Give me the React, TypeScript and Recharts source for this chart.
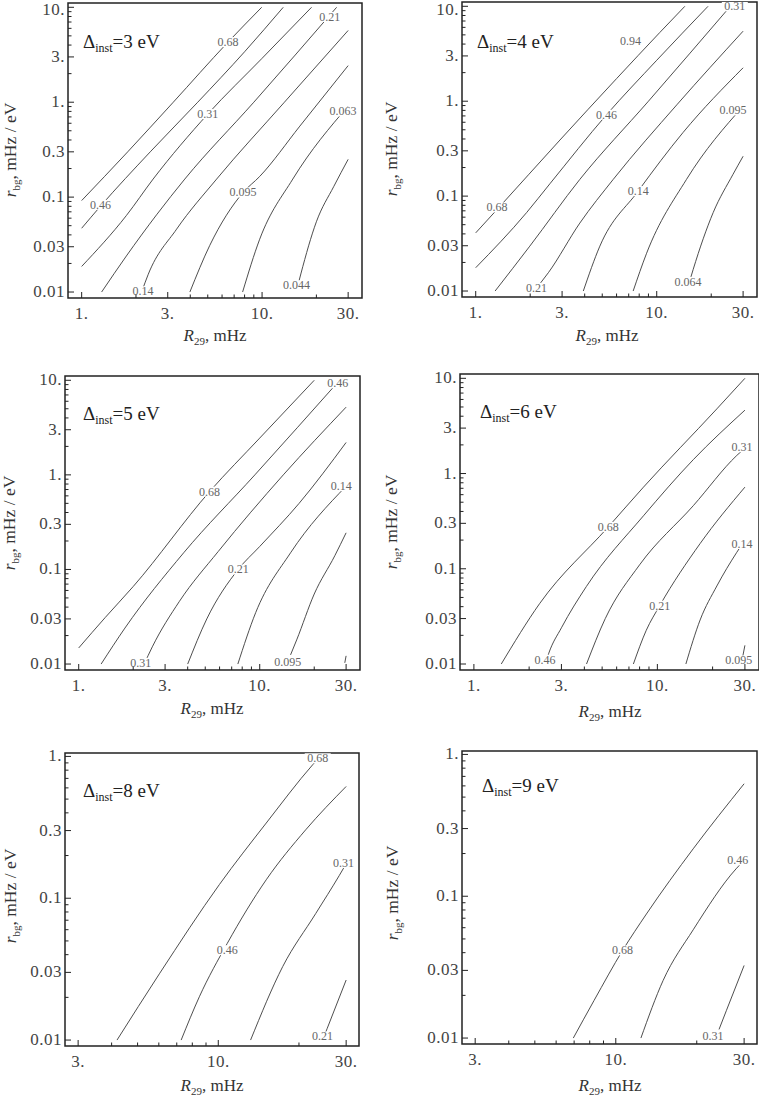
import React from 'react';
import { ComposedChart, Line, Scatter, XAxis, YAxis, ReferenceArea } from 'recharts';

const serif = '"Liberation Serif", "DejaVu Serif", "Times New Roman", serif';

// tick values (panels with R29 from 1, and panels with R29 from 3)
const xMajorWide = [1, 3, 10, 30];
const xMinorWide = [2, 4, 5, 6, 7, 8, 9, 20];
const xMajorNarrow = [3, 10, 30];
const xMinorNarrow = [4, 5, 6, 7, 8, 9, 20];
const yMajorTall = [0.01, 0.03, 0.1, 0.3, 1, 3, 10];
const yMinorTall = [0.02, 0.04, 0.05, 0.06, 0.07, 0.08, 0.09, 0.2, 0.4, 0.5, 0.6, 0.7, 0.8, 0.9, 2, 4, 5, 6, 7, 8, 9];
const yMajorShort = [0.01, 0.03, 0.1, 0.3, 1];
const yMinorShort = [0.02, 0.04, 0.05, 0.06, 0.07, 0.08, 0.09, 0.2, 0.4, 0.5, 0.6, 0.7, 0.8, 0.9];

// contour lines, [R29, r_bg] pairs
const lines3eV = [
  [[1, 0.092], [1.8, 0.3], [3.22, 1], [6.4, 4.2], [9.95, 10]],
  [[1, 0.047], [1.27, 0.08], [2.4, 0.3], [4.4, 1], [8, 3.4], [13.1, 10]],
  [[1, 0.0186], [1.77, 0.064], [2.49, 0.155], [5.0, 0.75], [10, 2.9], [18.8, 10]],
  [[1.29, 0.01], [1.77, 0.024], [2.6, 0.065], [3.73, 0.155], [9, 1], [25.9, 10]],
  [[2.15, 0.01], [2.34, 0.0154], [3.36, 0.046], [5.6, 0.155], [13.3, 1], [30, 5.7]],
  [[3.98, 0.01], [5.13, 0.031], [7.85, 0.112], [9.7, 0.165], [16.2, 0.56], [30, 2.43]],
  [[7.8, 0.01], [9.7, 0.036], [14.8, 0.155], [30, 0.91]],
  [[15.8, 0.0118], [16.4, 0.0155], [20, 0.055], [25, 0.13], [30, 0.25]],
];
const labels3eV = [
  { x: 6.48, y: 4.3, text: '0.68' },
  { x: 1.27, y: 0.083, text: '0.46' },
  { x: 5.0, y: 0.75, text: '0.31' },
  { x: 23.7, y: 7.9, text: '0.21' },
  { x: 2.19, y: 0.0102, text: '0.14' },
  { x: 7.85, y: 0.112, text: '0.095' },
  { x: 28.1, y: 0.8, text: '0.063' },
  { x: 15.5, y: 0.0118, text: '0.044' },
];

const lines4eV = [
  [[1, 0.041], [1.31, 0.072], [2.92, 0.39], [6, 1.73], [10.4, 5.3], [14.3, 10]],
  [[1, 0.0176], [1.91, 0.067], [2.57, 0.135], [5.28, 0.72], [10, 2.7], [19.2, 10]],
  [[1.28, 0.01], [1.99, 0.0297], [3.76, 0.15], [9.0, 1], [25.5, 10]],
  [[2.1, 0.01], [2.52, 0.0156], [3.76, 0.052], [5.75, 0.15], [13, 0.93], [30, 5.47]],
  [[3.93, 0.01], [4.85, 0.0297], [7.9, 0.113], [14, 0.47], [30, 2.25]],
  [[7.41, 0.01], [8.79, 0.025], [14.6, 0.15], [30, 0.886]],
  [[15.2, 0.0127], [15.9, 0.0169], [20.5, 0.067], [26.4, 0.17], [30, 0.263]],
];
const labels4eV = [
  { x: 7.17, y: 4.29, text: '0.94' },
  { x: 1.31, y: 0.076, text: '0.68' },
  { x: 5.28, y: 0.72, text: '0.46' },
  { x: 27, y: 10, text: '0.31' },
  { x: 2.17, y: 0.0108, text: '0.21' },
  { x: 7.9, y: 0.113, text: '0.14' },
  { x: 26.4, y: 0.8, text: '0.095' },
  { x: 14.9, y: 0.0125, text: '0.064' },
];

const lines5eV = [
  [[1, 0.0148], [1.4, 0.031], [2.0, 0.066], [5.28, 0.665], [10, 2.45], [20, 10]],
  [[1.33, 0.01], [1.8, 0.024], [3.8, 0.15], [9.4, 1], [27.6, 10]],
  [[2.3, 0.01], [2.55, 0.0152], [3.6, 0.046], [5.9, 0.155], [13.5, 1], [30, 5.2]],
  [[4.0, 0.01], [5.1, 0.03], [7.6, 0.1], [10, 0.175], [16.5, 0.5], [30, 2.2]],
  [[7.57, 0.01], [9.5, 0.035], [14.8, 0.15], [30, 0.76]],
  [[14.8, 0.0125], [16, 0.018], [20, 0.055], [26, 0.14], [30, 0.244]],
  [[29.5, 0.0103], [30, 0.0122]],
];
const labels5eV = [
  { x: 5.28, y: 0.665, text: '0.68' },
  { x: 27, y: 9.3, text: '0.46' },
  { x: 2.2, y: 0.0103, text: '0.31' },
  { x: 7.6, y: 0.1, text: '0.21' },
  { x: 28.2, y: 0.76, text: '0.14' },
  { x: 14.3, y: 0.0104, text: '0.095' },
];

const lines6eV = [
  [[1.41, 0.01], [2.28, 0.043], [5.4, 0.275], [8.4, 0.72], [21.1, 4.78], [30, 10]],
  [[2.45, 0.01], [2.56, 0.013], [3.0, 0.024], [4.1, 0.065], [8.4, 0.36], [15.7, 1.4], [30, 4.63]],
  [[4.11, 0.01], [5.2, 0.03], [8.0, 0.11], [15.7, 0.46], [27.1, 1.55], [30, 1.85]],
  [[7.4, 0.01], [8.7, 0.0226], [10.3, 0.041], [17.1, 0.184], [30, 0.72]],
  [[14.3, 0.01], [17.1, 0.029], [21.1, 0.066], [27.1, 0.149], [30, 0.2]],
  [[29.2, 0.012], [30, 0.0157]],
];
const labels6eV = [
  { x: 5.4, y: 0.275, text: '0.68' },
  { x: 2.44, y: 0.0111, text: '0.46' },
  { x: 28.9, y: 1.89, text: '0.31' },
  { x: 10.3, y: 0.041, text: '0.21' },
  { x: 28.9, y: 0.182, text: '0.14' },
  { x: 27.8, y: 0.0109, text: '0.095' },
];

const lines8eV = [
  [[4.19, 0.01], [6.05, 0.0296], [10.1, 0.125], [15.1, 0.339], [22.5, 0.873], [24, 1]],
  [[7.27, 0.01], [8.5, 0.0202], [10.8, 0.048], [15.1, 0.135], [21.2, 0.304], [30, 0.614]],
  [[13.2, 0.01], [17.4, 0.033], [23.1, 0.078], [28.3, 0.145], [30, 0.175]],
  [[25, 0.011], [25.5, 0.0121], [30, 0.0265]],
];
const labels8eV = [
  { x: 23.5, y: 0.97, text: '0.68' },
  { x: 10.8, y: 0.043, text: '0.46' },
  { x: 29.3, y: 0.177, text: '0.31' },
  { x: 24.5, y: 0.0106, text: '0.21' },
];

const lines9eV = [
  [[6.95, 0.01], [8.3, 0.0184], [10.6, 0.0415], [13, 0.075], [19.4, 0.216], [30, 0.621]],
  [[12.4, 0.01], [15, 0.0255], [19.4, 0.058], [28, 0.156], [30, 0.179]],
  [[24.2, 0.0115], [25.8, 0.0157], [30, 0.0325]],
];
const labels9eV = [
  { x: 10.6, y: 0.0415, text: '0.68' },
  { x: 28.4, y: 0.179, text: '0.46' },
  { x: 23.0, y: 0.0104, text: '0.31' },
];

const wideX = { xDomain: [0.84, 35.8], xMajor: xMajorWide, xMinor: xMinorWide };
const narrowX = { xDomain: [2.68, 33.5], xMajor: xMajorNarrow, xMinor: xMinorNarrow };
const tallY = { yDomain: [0.00865, 11.1], yMajor: yMajorTall, yMinor: yMinorTall };
const shortY = { yDomain: [0.00908, 1.057], yMajor: yMajorShort, yMinor: yMinorShort };

const panels = [
  { delta: '3', lines: lines3eV, labels: labels3eV, ...wideX, ...tallY,
    plot: { l: 68, t: 3, w: 294, h: 295 }, title: [83, 43], xLab: [215, 337], yLab: [12, 150] },
  { delta: '4', lines: lines4eV, labels: labels4eV, ...wideX, ...tallY,
    plot: { l: 462, t: 2, w: 295, h: 295 }, title: [477, 43], xLab: [607, 337], yLab: [393, 149] },
  { delta: '5', lines: lines5eV, labels: labels5eV, ...wideX, ...tallY,
    plot: { l: 65, t: 376, w: 295, h: 294 }, title: [83, 415], xLab: [212, 710], yLab: [11, 523] },
  { delta: '6', lines: lines6eV, labels: labels6eV, ...wideX, ...tallY,
    plot: { l: 460, t: 374, w: 299, h: 296 }, title: [480, 413], xLab: [610, 713], yLab: [393, 522] },
  { delta: '8', lines: lines8eV, labels: labels8eV, ...narrowX, ...shortY,
    plot: { l: 65, t: 753, w: 294, h: 293 }, title: [83, 792], xLab: [212, 1087], yLab: [12, 896] },
  { delta: '9', lines: lines9eV, labels: labels9eV, ...narrowX, ...shortY,
    plot: { l: 462, t: 751, w: 295, h: 293 }, title: [482, 787], xLab: [610, 1087], yLab: [394, 893] },
];

const fmt = (v: number) => (v >= 1 ? `${v}.` : `${v}`);

function XTick(props: any) {
  const { x, y, payload, majors } = props;
  const major = majors.includes(payload.value);
  return (
    <g>
      <line x1={x} x2={x} y1={y} y2={y - (major ? 6 : 3.5)} stroke="#222" strokeWidth={1} />
      {major && (
        <text x={x} y={y + 21} textAnchor="middle" fontSize={17} letterSpacing={0.5} fontFamily={serif} fill="#444">
          {fmt(payload.value)}
        </text>
      )}
    </g>
  );
}

function YTick(props: any) {
  const { x, y, payload, majors, topEdge } = props;
  const major = majors.includes(payload.value);
  // keep the top label inside the page
  const base = Math.max(y + 5, topEdge);
  return (
    <g>
      <line x1={x} x2={x + (major ? 6 : 3.5)} y1={y} y2={y} stroke="#222" strokeWidth={1} />
      {major && (
        <text x={x - 3} y={base} textAnchor="end" fontSize={17} letterSpacing={0.5} fontFamily={serif} fill="#444">
          {fmt(payload.value)}
        </text>
      )}
    </g>
  );
}

function ContourText(props: any) {
  const { cx, cy, payload } = props;
  const w = payload.text.length * 6 + 2;
  return (
    <g>
      <rect x={cx - w / 2} y={cy - 5} width={w} height={10} fill="#fff" />
      <text x={cx} y={cy + 4} textAnchor="middle" fontSize={12} fontFamily={serif} fill="#666">
        {payload.text}
      </text>
    </g>
  );
}

function Panel({ p }: { p: (typeof panels)[number] }) {
  const { plot } = p;
  const width = plot.w + 64;
  const height = plot.h + 42;
  const chartTop = plot.t - 12;
  // svg y where a label baseline stays clear of the page top
  const topEdge = 15 - chartTop;
  return (
    <>
      <div style={{ position: 'absolute', left: plot.l - 60, top: chartTop }}>
        <ComposedChart width={width} height={height} margin={{ top: 12, right: 4, bottom: 5, left: 10 }}>
          <XAxis
            dataKey="x"
            type="number"
            scale="log"
            domain={p.xDomain}
            allowDataOverflow
            ticks={[...p.xMajor, ...p.xMinor]}
            interval={0}
            tickSize={0}
            tickMargin={0}
            tickLine={false}
            axisLine={false}
            height={25}
            tick={(t: any) => <XTick {...t} majors={p.xMajor} />}
          />
          <YAxis
            dataKey="y"
            type="number"
            scale="log"
            domain={p.yDomain}
            allowDataOverflow
            ticks={[...p.yMajor, ...p.yMinor]}
            interval={0}
            tickSize={0}
            tickMargin={0}
            tickLine={false}
            axisLine={false}
            width={50}
            tick={(t: any) => <YTick {...t} majors={p.yMajor} topEdge={topEdge} />}
          />
          <ReferenceArea
            x1={p.xDomain[0]}
            x2={p.xDomain[1]}
            y1={p.yDomain[0]}
            y2={p.yDomain[1]}
            fill="none"
            stroke="#222"
            strokeWidth={1.5}
            ifOverflow="visible"
          />
          {p.lines.map((ln, i) => (
            <Line
              key={i}
              data={ln.map(([x, y]) => ({ x, y }))}
              dataKey="y"
              type="monotone"
              stroke="#3a3a3a"
              strokeWidth={0.9}
              dot={false}
              isAnimationActive={false}
            />
          ))}
          <Scatter data={p.labels} dataKey="y" shape={ContourText} isAnimationActive={false} />
        </ComposedChart>
      </div>
      <div
        style={{
          position: 'absolute', left: p.title[0], top: p.title[1], transform: 'translateY(-50%)',
          fontFamily: serif, fontSize: 19, color: '#222', whiteSpace: 'nowrap', lineHeight: 1,
        }}
      >
        Δ<sub style={{ fontSize: 12, verticalAlign: '-0.3em' }}>inst</sub>={p.delta} eV
      </div>
      <div
        style={{
          position: 'absolute', left: p.xLab[0], top: p.xLab[1], transform: 'translate(-50%, -50%)',
          fontFamily: serif, fontSize: 17, color: '#333', whiteSpace: 'nowrap', lineHeight: 1,
        }}
      >
        <i>R</i><sub style={{ fontSize: 11, verticalAlign: '-0.3em' }}>29</sub>, mHz
      </div>
      <div
        style={{
          position: 'absolute', left: p.yLab[0], top: p.yLab[1],
          transform: 'translate(-50%, -50%) rotate(-90deg)',
          fontFamily: serif, fontSize: 17.5, color: '#333', whiteSpace: 'nowrap', lineHeight: 1,
        }}
      >
        <i>r</i><sub style={{ fontSize: 11, verticalAlign: '-0.3em' }}>bg</sub>, mHz / eV
      </div>
    </>
  );
}

export default function App() {
  return (
    <div
      style={{
        position: 'absolute', left: 0, top: 0, width: 759, height: 1097,
        background: '#fff', overflow: 'hidden',
      }}
    >
      {panels.map((p) => (
        <Panel key={p.delta} p={p} />
      ))}
    </div>
  );
}
